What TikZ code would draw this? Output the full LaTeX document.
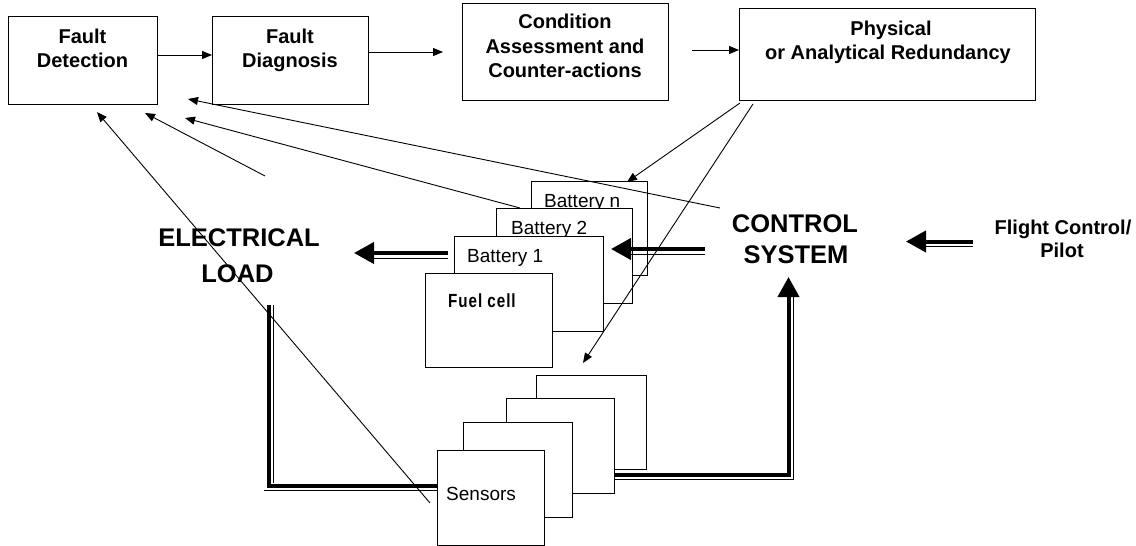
\documentclass[tikz,border=0pt]{standalone}
\usepackage{fontspec}
\setmainfont{Liberation Sans}
\newfontfamily\fuelfont{Liberation Sans}[FakeStretch=0.8,LetterSpace=5]
\usetikzlibrary{arrows.meta}
\begin{document}
\begin{tikzpicture}[x=1pt,y=-1pt,
  box/.style={draw,line width=0.9pt,fill=white,inner sep=0pt,anchor=north west},
  conn/.style={line width=0.9pt,-{Triangle[length=10pt,width=8pt]}},
  fat/.style={line width=4pt},
  hair/.style={line width=1pt},
  bighead/.style={-{Triangle[length=20pt,width=21pt]}},
  lbl/.style={anchor=base,inner sep=0pt,font=\bfseries\fontsize{20}{24}\selectfont},
  big/.style={anchor=base,inner sep=0pt,font=\bfseries\fontsize{25.5}{30}\selectfont},
  thin/.style={anchor=base west,inner sep=0pt,font=\fontsize{19}{22}\selectfont}]
\useasboundingbox (0,0) rectangle (1136,546);
\fill[white] (0,0) rectangle (1136,546);

% top boxes
\node[box,minimum width=149pt,minimum height=88pt] (fd) at (8,16) {};
\node[box,minimum width=156pt,minimum height=88pt] (fdiag) at (212,16) {};
\node[box,minimum width=206pt,minimum height=97pt] (cond) at (462,3) {};
\node[box,minimum width=296pt,minimum height=92pt] (phys) at (739,8) {};

\node[lbl] (t1) at (82.5,43) {Fault};
\node[lbl] (t2) at (82.5,67) {Detection};
\node[lbl] (t3) at (290,43) {Fault};
\node[lbl] (t4) at (290,67) {Diagnosis};
\node[lbl] (t5) at (565,28) {Condition};
\node[lbl] (t6) at (565,53) {Assessment and};
\node[lbl] (t7) at (565,77) {Counter-actions};
\node[lbl] (t8) at (891,35) {Physical};
\node[lbl,anchor=base west] (t9) at (765,59) {or Analytical Redundancy};

% top arrows
\coordinate (da) at (443,52);
\coordinate (ca) at (692,50);
\draw[conn] (fd.east |- 0,55) -- (fdiag.west |- 0,55);
\draw[conn] (fdiag.east |- 0,52) -- (da);
\draw[conn] (ca) -- (phys.west |- 0,50);

% battery stack
\node[box,minimum width=116pt,minimum height=94pt] (bn) at (531,181) {};
\node[thin] (bnt) at (544,207) {Battery n};
\node[box,minimum width=136pt,minimum height=95pt] (b2) at (496,208) {};
\node[thin] (b2t) at (511,234) {Battery 2};
\node[box,minimum width=149pt,minimum height=95pt] (b1) at (454,236) {};
\node[thin] (b1t) at (467,262) {Battery 1};
\node[box,minimum width=127pt,minimum height=94pt] (fc) at (425,273) {};
\node[anchor=base west,inner sep=0pt,font=\fuelfont\bfseries\fontsize{19}{22}\selectfont] (fct) at (448,307) {Fuel cell};

% sensor stack
\node[box,minimum width=110pt,minimum height=94pt] (s4) at (536,375) {};
\node[box,minimum width=108pt,minimum height=95pt] (s3) at (506,398) {};
\node[box,minimum width=109pt,minimum height=95pt] (s2) at (463,422) {};
\node[box,minimum width=107pt,minimum height=95pt] (s1) at (437,450) {};
\node[thin] (s1t) at (446,500) {Sensors};

% big labels
\node[big] (el1) at (239,246) {ELECTRICAL};
\node[big] (el2) at (237.5,282) {LOAD};
\node[big] (cs1) at (795,232) {CONTROL};
\node[big] (cs2) at (796,263) {SYSTEM};
\node[lbl] (fl1) at (1063,234) {Flight Control/};
\node[lbl] (fl2) at (1062,257) {Pilot};

% thin connectors
\coordinate (p1) at (740,103);
\coordinate (p2) at (753,104);
\coordinate (bnh) at (627,182);
\coordinate (snh) at (583,363);
\coordinate (csl) at (720,208);
\coordinate (h1) at (188,99);
\coordinate (b2s) at (520,208);
\coordinate (h2) at (185,118);
\coordinate (lt) at (265,176);
\coordinate (h3) at (145,113);
\coordinate (ss) at (430,503);
\coordinate (h4) at (97,112);
\draw[conn] (p1) -- (bnh);
\draw[conn] (p2) -- (snh);
\draw[conn] (csl) -- (h1);
\draw[conn] (b2s) -- (h2);
\draw[conn] (lt) -- (h3);
\draw[conn] (ss) -- (h4);

% double (power / signal) arrows
\coordinate (bl1) at (448,253);
\coordinate (bl2) at (354,253);
\draw[fat,bighead] (bl1) -- (bl2);
\draw[hair] ([yshift=-5.5pt]bl1) -- ([yshift=-5.5pt,xshift=20pt]bl2);

\coordinate (cb1) at (705,249);
\coordinate (cb2) at (611,249);
\draw[fat,bighead] (cb1) -- (cb2);
\draw[hair] ([yshift=-5pt]cb1) -- ([yshift=-5pt,xshift=20pt]cb2);

\coordinate (fp1) at (973,241.5);
\coordinate (fp2) at (906,241.5);
\draw[fat,bighead] (fp1) -- (fp2);
\draw[hair] ([yshift=-5pt]fp1) -- ([yshift=-5pt,xshift=20pt]fp2);

\coordinate (sr) at (s3.east |- 0,475);
\coordinate (ct) at (788.5,277);
\draw[fat,bighead,line join=miter] (sr) -| (ct);
\draw[hair] ([yshift=-4pt]sr) -| ([xshift=5pt,yshift=-20pt]ct);

\coordinate (lv) at (269,305);
\coordinate (lh) at (s1.west |- 0,486);
\draw[fat,line join=miter] (lv) |- (lh);
\draw[hair] ([xshift=4pt]lv) -- (273,483);
\draw[hair] (264,490) -- ([yshift=-4pt]lh);
\end{tikzpicture}
\end{document}
